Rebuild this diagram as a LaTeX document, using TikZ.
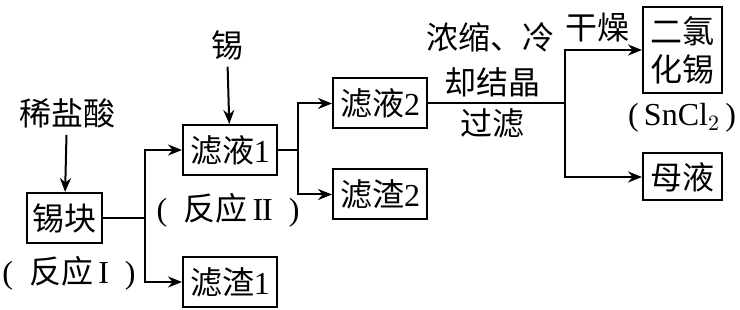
\documentclass[tikz,border=0pt]{standalone}
\usepackage{fontspec}
\setmainfont{Liberation Serif}
\newfontfamily\cjk{Noto Sans CJK SC}
\newcommand{\hz}[1]{{\cjk #1}}
\usepackage{tikz}
\usetikzlibrary{arrows.meta, positioning}

\begin{document}
\begin{tikzpicture}[x=0.5pt, y=-0.5pt, font=\fontsize{16}{19}\selectfont,
	bx/.style={draw, line width=1pt, inner sep=0pt, minimum width=47pt, minimum height=25pt},
	tx/.style={inner sep=0pt},
	ln/.style={line width=1pt},
	ar/.style={line width=1pt, -{Stealth[length=7pt, width=5.5pt]}}]
	\useasboundingbox (0,0) rectangle (740,310);
	\node[bx, minimum width=37.5pt] (kuai) at (64.5,218) {\hz{锡块}};
	\node[bx] (lv1) at (230,150) {\hz{滤液}1};
	\node[bx] (lz1) at (230,282) {\hz{滤渣}1};
	\node[bx] (lv2) at (380,103.5) {\hz{滤液}2};
	\node[bx] (lz2) at (380,194.5) {\hz{滤渣}2};
	\node[bx, minimum width=39.5pt, minimum height=43pt, align=center] (sncl) at (682.5,50) {\hz{二氯}\\\hz{化锡}};
	\node[bx, minimum width=39.5pt, minimum height=23.5pt] (muye) at (682.5,177) {\hz{母液}};
	\node (xys) at (67,113) {\hz{稀盐酸}};
	\node (xi) at (227,45) {\hz{锡}};
	\node[tx] (fy1) at (69,273) {(\enspace\hz{反应}\,I\enspace)};
	\node[tx] (fy2) at (228,210) {(\enspace\hz{反应}\,I\kern-0.5ptI\enspace)};
	\node (nx) at (490,37) {\hz{浓缩、冷}};
	\node (jj) at (492,82) {\hz{却结晶}};
	\node (gl) at (492,123) {\hz{过滤}};
	\node (gz) at (597,28) {\hz{干燥}};
	\node[tx] (hx) at (682,118) {(\,SnCl$_2$\,)};
	\coordinate (c1) at (145,218);
	\coordinate (c2) at (298,150);
	\coordinate (c3) at (565,103.5);
	\draw[ar] (xys) -- (kuai);
	\draw[ar] (xi) -- (lv1);
	\draw[ln] (kuai) -- (c1); \draw[ar] (c1) |- (lv1); \draw[ar] (c1) |- (lz1);
	\draw[ln] (lv1) -- (c2); \draw[ar] (c2) |- (lv2); \draw[ar] (c2) |- (lz2);
	\draw[ln] (lv2) -- (c3); \draw[ar] (c3) |- (sncl); \draw[ar] (c3) |- (muye);
\end{tikzpicture}
\end{document}
